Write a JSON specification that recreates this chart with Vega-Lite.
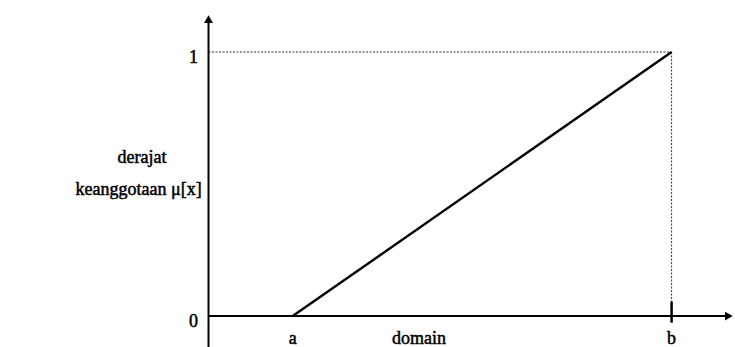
{
  "$schema": "https://vega.github.io/schema/vega-lite/v6.json",
  "width": 735,
  "height": 347,
  "autosize": {"type": "none"},
  "padding": 0,
  "background": "white",
  "config": {"view": {"stroke": null}},
  "datasets": {
    "segments": [
      {"kind": "axis", "x": 0, "y": -0.12, "x2": 0, "y2": 1.12},
      {"kind": "axis", "x": 0, "y": 0, "x2": 12.3, "y2": 0},
      {"kind": "guide", "x": 0, "y": 1, "x2": 11, "y2": 1},
      {"kind": "guide", "x": 11, "y": 1, "x2": 11, "y2": 0},
      {"kind": "tick", "x": 11, "y": -0.025, "x2": 11, "y2": 0.055}
    ],
    "membership": [
      {"x": 2, "y": 0},
      {"x": 11, "y": 1}
    ],
    "arrows": [
      {"dir": "up", "x": 0, "y": 1.125},
      {"dir": "right", "x": 12.36, "y": 0}
    ],
    "labels": [
      {"kind": "ytick", "text": "1", "x": 0, "y": 1},
      {"kind": "ytick", "text": "0", "x": 0, "y": 0},
      {"kind": "xtick", "text": "a", "x": 2, "y": 0},
      {"kind": "xtick", "text": "domain", "x": 5, "y": 0},
      {"kind": "xtick", "text": "b", "x": 11, "y": 0},
      {"kind": "ytitle", "text": "derajat", "x": -1.58, "y": 0.6},
      {"kind": "ytitle", "text": "keanggotaan μ[x]", "x": -1.66, "y": 0.478}
    ]
  },
  "encoding": {
    "x": {"field": "x", "type": "quantitative", "axis": null,
          "scale": {"domain": [-4.953, 12.506], "nice": false, "zero": false}},
    "y": {"field": "y", "type": "quantitative", "axis": null,
          "scale": {"domain": [-0.117, 1.197], "nice": false, "zero": false}}
  },
  "layer": [
    {
      "data": {"name": "segments"},
      "transform": [{"filter": "datum.kind === 'guide'"}],
      "mark": {"type": "rule", "color": "#333", "strokeWidth": 1, "strokeDash": [2, 1.5]},
      "encoding": {"x2": {"field": "x2"}, "y2": {"field": "y2"}}
    },
    {
      "data": {"name": "segments"},
      "transform": [{"filter": "datum.kind === 'axis'"}],
      "mark": {"type": "rule", "color": "black", "strokeWidth": 2},
      "encoding": {"x2": {"field": "x2"}, "y2": {"field": "y2"}}
    },
    {
      "data": {"name": "segments"},
      "transform": [{"filter": "datum.kind === 'tick'"}],
      "mark": {"type": "rule", "color": "black", "strokeWidth": 2.5},
      "encoding": {"x2": {"field": "x2"}, "y2": {"field": "y2"}}
    },
    {
      "data": {"name": "membership"},
      "mark": {"type": "line", "color": "black", "strokeWidth": 2.4},
      "encoding": {}
    },
    {
      "data": {"name": "arrows"},
      "mark": {"type": "point", "filled": true, "color": "black", "opacity": 1, "size": 80},
      "encoding": {
        "shape": {"field": "dir", "type": "nominal", "legend": null,
                  "scale": {"domain": ["up", "right"], "range": ["triangle-up", "triangle-right"]}}
      }
    },
    {
      "data": {"name": "labels"},
      "transform": [{"filter": "datum.kind === 'ytick'"}],
      "mark": {"type": "text", "font": "Liberation Serif", "fontSize": 18, "fill": "black",
               "stroke": "black", "strokeWidth": 0.5,
               "align": "center", "baseline": "middle", "dx": -15, "dy": 6},
      "encoding": {"text": {"field": "text"}}
    },
    {
      "data": {"name": "labels"},
      "transform": [{"filter": "datum.kind === 'xtick'"}],
      "mark": {"type": "text", "font": "Liberation Serif", "fontSize": 18, "fill": "black",
               "stroke": "black", "strokeWidth": 0.5,
               "align": "center", "baseline": "middle", "dy": 23},
      "encoding": {"text": {"field": "text"}}
    },
    {
      "data": {"name": "labels"},
      "transform": [{"filter": "datum.kind === 'ytitle'"}],
      "mark": {"type": "text", "font": "Liberation Serif", "fontSize": 18, "fill": "black",
               "stroke": "black", "strokeWidth": 0.5,
               "align": "center", "baseline": "middle"},
      "encoding": {"text": {"field": "text"}}
    }
  ]
}
